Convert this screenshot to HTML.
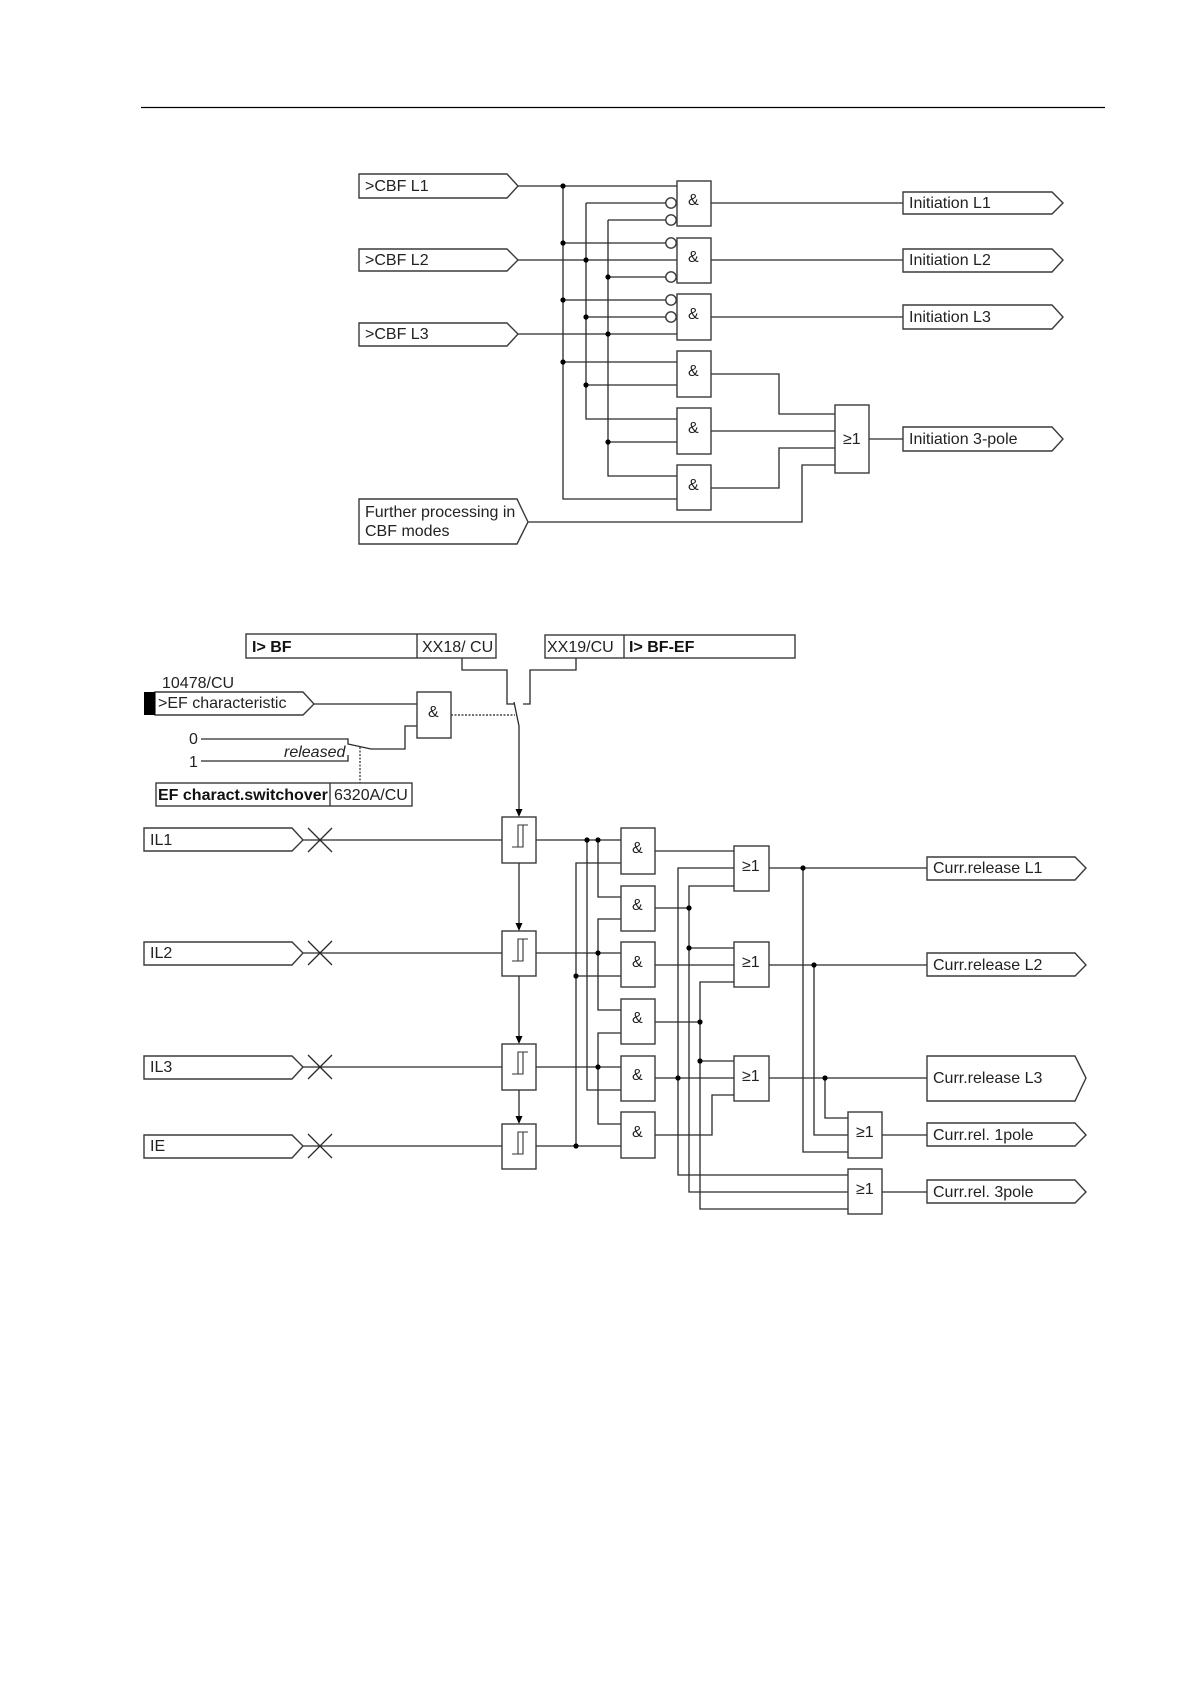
<!DOCTYPE html>
<html>
<head>
<meta charset="utf-8">
<style>
html,body{margin:0;padding:0;background:#fff;width:1190px;height:1684px;overflow:hidden}
svg{display:block}
text{font-family:"Liberation Sans",Arial,sans-serif;font-size:16px;fill:#222}
.b{font-weight:bold;fill:#111}
.i{font-style:italic}
path,rect,line,polygon,circle.n{stroke-linejoin:miter}
.w{fill:none;stroke:#2a2a2a;stroke-width:1.3}
.s{fill:#fff;stroke:#3a3a3a;stroke-width:1.4}
.d{fill:none;stroke:#444;stroke-width:1.4;stroke-dasharray:2 1.5}
.dot{fill:#000}
</style>
</head>
<body>
<svg width="1190" height="1684" viewBox="0 0 1190 1684" xmlns="http://www.w3.org/2000/svg">
<rect width="1190" height="1684" fill="#fff"/>
<line x1="141" y1="107.5" x2="1105" y2="107.5" stroke="#000" stroke-width="1.2"/>

<!-- top wires -->
<g class="w">
<path d="M518 186H677M518 260H677M518 334H677"/>
<path d="M563 186V499H677"/>
<path d="M586 203V419H677"/>
<path d="M608 220V476H677"/>
<path d="M586 203H666M608 220H666M563 243H666M608 277H666M563 300H666M586 317H666"/>
<path d="M563 362H677M586 385H677M608 442H677"/>
<path d="M711 203H903M711 260H903M711 317H903"/>
<path d="M711 374H779V414H835M711 431H835M711 488H779V448H835"/>
<path d="M528 522H802V465H835"/>
<path d="M869 439H903"/>
</g>
<g class="dot">
<circle cx="563" cy="186" r="2.6"/><circle cx="563" cy="243" r="2.6"/><circle cx="563" cy="300" r="2.6"/><circle cx="563" cy="362" r="2.6"/>
<circle cx="586" cy="260" r="2.6"/><circle cx="586" cy="317" r="2.6"/><circle cx="586" cy="385" r="2.6"/>
<circle cx="608" cy="277" r="2.6"/><circle cx="608" cy="334" r="2.6"/><circle cx="608" cy="442" r="2.6"/>
</g>

<!-- top input flags -->
<g class="s">
<path d="M359 174H507L518 186L507 198H359Z"/>
<path d="M359 249H507L518 260L507 271H359Z"/>
<path d="M359 323H507L518 334L507 346H359Z"/>
<path d="M359 499H517L528 522L517 544H359Z"/>
<path d="M903 192H1052L1063 203L1052 214H903Z"/>
<path d="M903 249H1052L1063 260L1052 272H903Z"/>
<path d="M903 305H1052L1063 317L1052 329H903Z"/>
<path d="M903 427H1052L1063 439L1052 451H903Z"/>
<rect x="677" y="181" width="34" height="45"/>
<rect x="677" y="238" width="34" height="45"/>
<rect x="677" y="294" width="34" height="46"/>
<rect x="677" y="351" width="34" height="46"/>
<rect x="677" y="408" width="34" height="46"/>
<rect x="677" y="465" width="34" height="45"/>
<rect x="835" y="405" width="34" height="68"/>
<circle cx="671" cy="203" r="5.2"/><circle cx="671" cy="220" r="5.2"/>
<circle cx="671" cy="243" r="5.2"/><circle cx="671" cy="277" r="5.2"/>
<circle cx="671" cy="300" r="5.2"/><circle cx="671" cy="317" r="5.2"/>
</g>
<text x="365" y="191">&gt;CBF L1</text>
<text x="365" y="265">&gt;CBF L2</text>
<text x="365" y="339">&gt;CBF L3</text>
<text x="365" y="517">Further processing in</text>
<text x="365" y="536">CBF modes</text>
<text x="909" y="208">Initiation L1</text>
<text x="909" y="265">Initiation L2</text>
<text x="909" y="322">Initiation L3</text>
<text x="909" y="444">Initiation 3-pole</text>
<text x="688" y="205">&amp;</text>
<text x="688" y="262">&amp;</text>
<text x="688" y="319">&amp;</text>
<text x="688" y="376">&amp;</text>
<text x="688" y="433">&amp;</text>
<text x="688" y="490">&amp;</text>
<text x="843" y="444">≥1</text>

<!-- settings -->
<g class="w">
<path d="M462 658V670H507V704H514"/>
<path d="M576 658V670H530V704H523"/>
<path d="M514 702L519 726V810"/>
<path d="M314 704H417"/>
<path d="M201 739H348V744L371 749H405V726H417"/>
<path d="M201 761H348V755"/>
</g>
<path class="d" d="M451 715H515"/>
<path class="d" d="M360 747V783"/>
<g class="s">
<rect x="246" y="634" width="250" height="24"/>
<line x1="417" y1="634" x2="417" y2="658"/>
<rect x="545" y="635" width="250" height="23"/>
<line x1="624" y1="635" x2="624" y2="658"/>
<path d="M155 692H303L314 704L303 715H155Z"/>
<rect x="417" y="692" width="34" height="46"/>
<rect x="156" y="783" width="256" height="23"/>
<line x1="330" y1="783" x2="330" y2="806"/>
</g>
<rect x="144" y="692" width="11" height="23" fill="#000"/>
<text x="252" y="652" class="b">I&gt; BF</text>
<text x="422" y="652">XX18/ CU</text>
<text x="547" y="652">XX19/CU</text>
<text x="629" y="652" class="b">I&gt; BF-EF</text>
<text x="162" y="688">10478/CU</text>
<text x="158" y="708">&gt;EF characteristic</text>
<text x="428" y="717">&amp;</text>
<text x="189" y="744">0</text>
<text x="189" y="767">1</text>
<text x="284" y="757" class="i">released</text>
<text x="158" y="800" class="b">EF charact.switchover</text>
<text x="334" y="800">6320A/CU</text>

<!-- lower wires -->
<g class="w">
<path d="M303 840H502M303 953H502M303 1067H502M303 1146H502"/>
<path d="M308 828L332 852M332 828L308 852"/>
<path d="M308 941L332 965M332 941L308 965"/>
<path d="M308 1055L332 1079M332 1055L308 1079"/>
<path d="M308 1134L332 1158M332 1134L308 1158"/>
<path d="M519 863V924M519 976V1037M519 1090V1117"/>
<path d="M536 840H621M536 953H621M536 1067H621M536 1146H621"/>
<path d="M621 863H576V1146"/>
<path d="M587 840V1090H621"/>
<path d="M598 840V897H621"/>
<path d="M621 919H598V1010H621"/>
<path d="M576 976H621"/>
<path d="M621 1033H598V1124H621"/>
<path d="M655 851H734M655 908H689M655 965H734M655 1022H700M655 1078H734"/>
<path d="M655 1135H712V1095H734"/>
<path d="M734 868H678V1175H848"/>
<path d="M734 886H689V1192H848"/>
<path d="M689 948H734"/>
<path d="M734 982H700V1209H848"/>
<path d="M700 1061H734"/>
<path d="M769 868H927M769 965H927M769 1078H927"/>
<path d="M803 868V1152H848"/>
<path d="M814 965V1135H848"/>
<path d="M825 1078V1118H848"/>
<path d="M882 1135H927M882 1192H927"/>
</g>
<g fill="#000">
<polygon points="515.5,809 522.5,809 519,817"/>
<polygon points="515.5,923 522.5,923 519,931"/>
<polygon points="515.5,1036 522.5,1036 519,1044"/>
<polygon points="515.5,1116 522.5,1116 519,1124"/>
</g>
<g class="dot">
<circle cx="587" cy="840" r="2.6"/><circle cx="598" cy="840" r="2.6"/><circle cx="598" cy="953" r="2.6"/><circle cx="598" cy="1067" r="2.6"/>
<circle cx="576" cy="976" r="2.6"/><circle cx="576" cy="1146" r="2.6"/>
<circle cx="678" cy="1078" r="2.6"/>
<circle cx="689" cy="908" r="2.6"/><circle cx="689" cy="948" r="2.6"/>
<circle cx="700" cy="1022" r="2.6"/><circle cx="700" cy="1061" r="2.6"/>
<circle cx="803" cy="868" r="2.6"/><circle cx="814" cy="965" r="2.6"/><circle cx="825" cy="1078" r="2.6"/>
</g>
<g class="s">
<path d="M144 828H292L303 840L292 851H144Z"/>
<path d="M144 942H292L303 953L292 965H144Z"/>
<path d="M144 1056H292L303 1067L292 1079H144Z"/>
<path d="M144 1135H292L303 1146L292 1158H144Z"/>
<rect x="502" y="817" width="34" height="46"/>
<rect x="502" y="931" width="34" height="45"/>
<rect x="502" y="1044" width="34" height="46"/>
<rect x="502" y="1124" width="34" height="45"/>
<rect x="621" y="828" width="34" height="46"/>
<rect x="621" y="886" width="34" height="45"/>
<rect x="621" y="942" width="34" height="45"/>
<rect x="621" y="999" width="34" height="45"/>
<rect x="621" y="1056" width="34" height="45"/>
<rect x="621" y="1112" width="34" height="46"/>
<rect x="734" y="846" width="35" height="45"/>
<rect x="734" y="942" width="35" height="45"/>
<rect x="734" y="1056" width="35" height="45"/>
<rect x="848" y="1112" width="34" height="46"/>
<rect x="848" y="1169" width="34" height="45"/>
<path d="M927 857H1075L1086 868L1075 880H927Z"/>
<path d="M927 953H1075L1086 965L1075 976H927Z"/>
<path d="M927 1056H1075L1086 1078L1075 1101H927Z"/>
<path d="M927 1123H1075L1086 1135L1075 1146H927Z"/>
<path d="M927 1180H1075L1086 1192L1075 1203H927Z"/>
</g>
<g fill="none" stroke="#333" stroke-width="1.1">
<path d="M512 847H523V825H528M518 847V825H523"/>
<path d="M512 961H523V939H528M518 961V939H523"/>
<path d="M512 1074H523V1052H528M518 1074V1052H523"/>
<path d="M512 1154H523V1132H528M518 1154V1132H523"/>
</g>
<text x="150" y="845">IL1</text>
<text x="150" y="958">IL2</text>
<text x="150" y="1072">IL3</text>
<text x="150" y="1151">IE</text>
<text x="632" y="853">&amp;</text>
<text x="632" y="910">&amp;</text>
<text x="632" y="967">&amp;</text>
<text x="632" y="1023">&amp;</text>
<text x="632" y="1080">&amp;</text>
<text x="632" y="1137">&amp;</text>
<text x="742" y="871">≥1</text>
<text x="742" y="967">≥1</text>
<text x="742" y="1081">≥1</text>
<text x="856" y="1137">≥1</text>
<text x="856" y="1194">≥1</text>
<text x="933" y="873">Curr.release L1</text>
<text x="933" y="970">Curr.release L2</text>
<text x="933" y="1083">Curr.release L3</text>
<text x="933" y="1140">Curr.rel. 1pole</text>
<text x="933" y="1197">Curr.rel. 3pole</text>
</svg>
</body>
</html>
